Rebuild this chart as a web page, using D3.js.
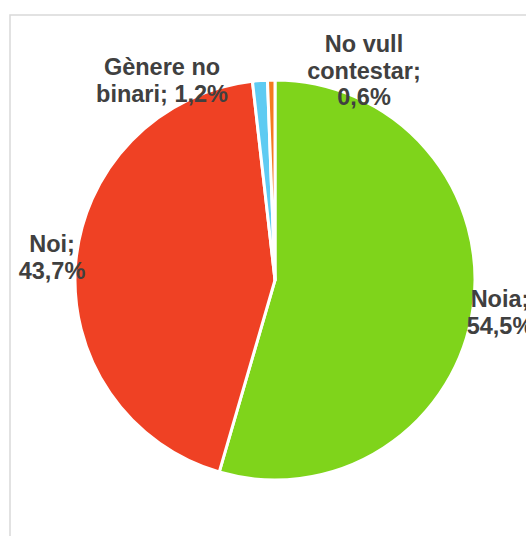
<!DOCTYPE html>
<html>
<head>
<meta charset="utf-8">
<script src="https://cdn.jsdelivr.net/npm/d3@7"></script>
<style>
  body { margin: 0; background: #fff; }
  svg { display: block; }
</style>
</head>
<body>
<div id="chart"></div>
<script>
var categories = ["Noia", "Noi", "Gènere no binari", "No vull contestar"];
var values = [54.5, 43.7, 1.2, 0.6];
var colors = ["#7fd41b", "#ef4124", "#5ecbf2", "#f47a20"];
// label lines as shown in the picture
var labelLines = [
    ["Noia;", "54,5%"],
    ["Noi;", "43,7%"],
    ["Gènere no", "binari; 1,2%"],
    ["No vull", "contestar;", "0,6%"]
];
// centre x, first baseline y
var labelPos = [[500, 307], [52, 252], [162, 75], [364, 52]];

var width = 526, height = 536;
var cx = 275, cy = 280, radius = 200;

var svg = d3.select("#chart")
    .append("svg")
    .attr("width", width)
    .attr("height", height);

// frame
svg.append("rect")
    .attr("x", 10).attr("y", 15)
    .attr("width", width).attr("height", height)
    .attr("fill", "none")
    .attr("stroke", "#d9d9d9")
    .attr("stroke-width", 1.5);

var data = categories.map(function(c, i) { return {name: c, value: values[i], color: colors[i]}; });

var pie = d3.pie()
    .sort(null)
    .value(function(d) { return d.value; });

var arc = d3.arc()
    .innerRadius(0)
    .outerRadius(radius);

var g = svg.append("g")
    .attr("transform", "translate(" + cx + "," + cy + ")");

g.selectAll("path")
    .data(pie(data))
    .enter()
    .append("path")
    .attr("d", arc)
    .attr("fill", function(d) { return d.data.color; })
    .attr("stroke", "#fff")
    .attr("stroke-width", 3)
    .attr("stroke-linejoin", "round");

var labels = svg.append("g")
    .selectAll("text")
    .data(labelLines)
    .enter()
    .append("text")
    .attr("text-anchor", "middle")
    .style("font-family", "'Liberation Sans', Arial, sans-serif")
    .attr("font-weight", "bold")
    .attr("font-size", "23.5px")
    .attr("fill", "#404040")
    .attr("transform", function(d, i) { return "translate(" + labelPos[i][0] + "," + labelPos[i][1] + ")"; });

labels.selectAll("tspan")
    .data(function(d) { return d; })
    .enter()
    .append("tspan")
    .attr("x", 0)
    .attr("y", function(d, i) { return i * 26.5; })
    .text(function(d) { return d; });
</script>
</body>
</html>
